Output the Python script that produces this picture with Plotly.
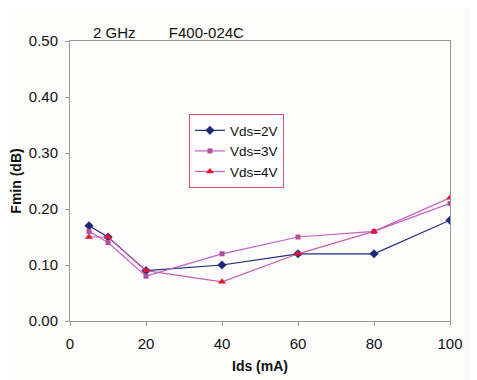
import plotly.graph_objects as go

ids = [5, 10, 20, 40, 60, 80, 100]
vds2 = [0.17, 0.15, 0.09, 0.10, 0.12, 0.12, 0.18]
vds3 = [0.16, 0.14, 0.08, 0.12, 0.15, 0.16, 0.21]
vds4 = [0.15, 0.15, 0.09, 0.07, 0.12, 0.16, 0.22]
x_ticks = [0, 20, 40, 60, 80, 100]
y_ticks = [0.0, 0.1, 0.2, 0.3, 0.4, 0.5]

fig = go.Figure()
fig.add_trace(go.Scatter(x=ids, y=vds2, name="Vds=2V", mode="lines+markers",
                         line=dict(color="#1E2A78", width=1.2),
                         marker=dict(symbol="diamond", size=7, color="#1E2A78")))
fig.add_trace(go.Scatter(x=ids, y=vds3, name="Vds=3V", mode="lines+markers",
                         line=dict(color="#C060C8", width=1.2),
                         marker=dict(symbol="square", size=5, color="#B0509A")))
fig.add_trace(go.Scatter(x=ids, y=vds4, name="Vds=4V", mode="lines+markers",
                         line=dict(color="#C860B0", width=1.2),
                         marker=dict(symbol="triangle-up", size=7, color="#E8142E")))

font = "Liberation Sans, Arial, sans-serif"
W, H = 469, 372
L, R, T, B = 62, 27, 33, 59
fig.update_layout(
    width=W, height=H,
    margin=dict(l=L, r=R, t=T, b=B),
    paper_bgcolor="#FCFCFA", plot_bgcolor="#FCFCFA",
    font=dict(family=font, size=15, color="#111111"),
    showlegend=True,
    legend=dict(x=0.313, y=0.739, xanchor="left", yanchor="top",
                bgcolor="#FFFFFF", bordercolor="#D85070", borderwidth=1,
                font=dict(size=13.5), tracegroupgap=0, itemwidth=30),
    annotations=[dict(text="2 GHz&nbsp;&nbsp;&nbsp;&nbsp;&nbsp;&nbsp;&nbsp;&nbsp;F400-024C",
                      x=(91 - 8 - L) / (W - L - R), xanchor="left",
                      y=1.0, yanchor="bottom", yshift=-2,
                      xref="paper", yref="paper", showarrow=False,
                      font=dict(size=15))],
)

fig.update_xaxes(range=[0, 100], tickvals=x_ticks, ticktext=[str(v) for v in x_ticks],
                 showgrid=False, zeroline=False, showline=True, linecolor="#999999", linewidth=1,
                 mirror=True, ticks="outside", ticklen=4, tickcolor="#999999", automargin=False,
                 ticklabelstandoff=5,
                 title=dict(text="<b>Ids (mA)</b>", font=dict(size=14), standoff=10))
fig.update_yaxes(range=[0, 0.5], tickvals=y_ticks, ticktext=["%.2f" % v for v in y_ticks],
                 showgrid=False, zeroline=False, showline=True, linecolor="#999999", linewidth=1,
                 mirror=True, ticks="outside", ticklen=4, tickcolor="#999999", automargin=False,
                 ticklabelstandoff=4,
                 title=dict(text="<b>Fmin (dB)</b>", font=dict(size=14), standoff=6))

fig.write_html("out.html")
